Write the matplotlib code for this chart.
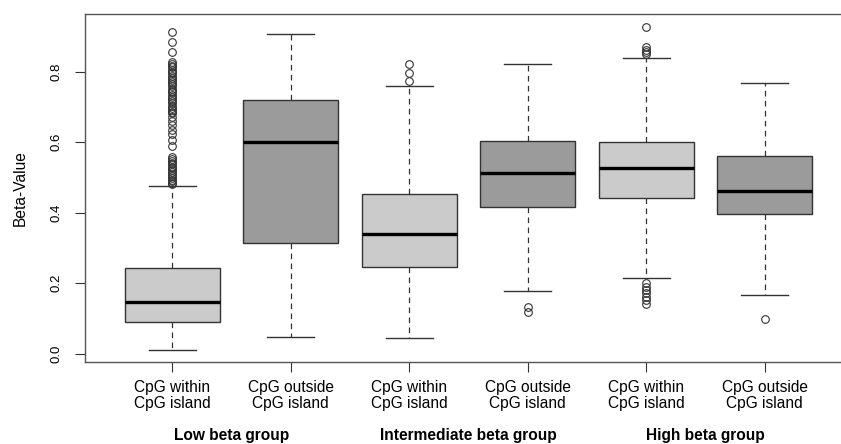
import matplotlib.pyplot as plt
from matplotlib.transforms import blended_transform_factory

plt.rcParams['font.family'] = ['Liberation Sans', 'DejaVu Sans']

# Box statistics
labels = ["CpG within\nCpG island", "CpG outside\nCpG island"] * 3
groups = ["Low beta group", "Intermediate beta group", "High beta group"]
whislo = [0.011, 0.048, 0.044, 0.178, 0.216, 0.167]
q1 = [0.089, 0.313, 0.245, 0.417, 0.443, 0.396]
med = [0.146, 0.601, 0.339, 0.513, 0.528, 0.461]
q3 = [0.244, 0.719, 0.452, 0.604, 0.601, 0.561]
whishi = [0.476, 0.906, 0.760, 0.823, 0.838, 0.769]

# Outliers
fliers_low_in = [0.912, 0.883, 0.855,
                 0.828, 0.822, 0.817, 0.812, 0.806, 0.799, 0.795, 0.788, 0.781,
                 0.776, 0.770, 0.764, 0.758, 0.751, 0.745, 0.741, 0.735, 0.728,
                 0.722, 0.716, 0.711, 0.704, 0.698, 0.692, 0.686, 0.683, 0.672,
                 0.660, 0.650, 0.635, 0.622, 0.606, 0.589,
                 0.559, 0.553, 0.548, 0.542, 0.537, 0.531, 0.526, 0.520, 0.515,
                 0.509, 0.504, 0.499, 0.494, 0.489, 0.485, 0.481]
fliers_low_out = []
fliers_mid_in = [0.774, 0.795, 0.822]
fliers_mid_out = [0.133, 0.119]
fliers_high_in = [0.928, 0.871, 0.862, 0.856, 0.850,
                  0.200, 0.190, 0.181, 0.171, 0.162, 0.152, 0.141]
fliers_high_out = [0.098]
fliers = [fliers_low_in, fliers_low_out, fliers_mid_in,
          fliers_mid_out, fliers_high_in, fliers_high_out]

fills = ['#cbcbcb', '#9b9b9b'] * 3

stats = []
for i in range(6):
    stats.append(dict(label=labels[i], whislo=whislo[i], q1=q1[i], med=med[i],
                      q3=q3[i], whishi=whishi[i], fliers=fliers[i]))

fig = plt.figure(figsize=(8.41, 4.44), dpi=100)
ax = fig.add_axes([0.1006, 0.1847, 0.9130, 0.7838])

edge = '#333333'
bp = ax.bxp(stats, positions=range(1, 7), widths=0.8, patch_artist=True,
            boxprops=dict(edgecolor=edge, linewidth=1.0),
            whiskerprops=dict(color=edge, linewidth=0.9, linestyle=(0, (4.5, 3.5))),
            capprops=dict(color=edge, linewidth=1.0),
            medianprops=dict(color='black', linewidth=2.4),
            flierprops=dict(marker='o', markersize=5.5, markerfacecolor='none',
                            markeredgecolor=edge, markeredgewidth=0.8),
            capwidths=0.4)
for patch, c in zip(bp['boxes'], fills):
    patch.set_facecolor(c)

ax.set_xlim(0.26, 6.74)
ax.set_ylim(-0.0235, 0.9637)
ax.set_yticks([0.0, 0.2, 0.4, 0.6, 0.8])
ax.set_yticklabels(['0.0', '0.2', '0.4', '0.6', '0.8'], rotation=90, va='center')
ax.tick_params(axis='y', labelsize=9.5, length=7, pad=9, color=edge)
ax.tick_params(axis='x', labelsize=11.2, length=7, pad=6, color=edge)
for lab in ax.get_xticklabels():
    lab.set_linespacing(1.1)
for s in ax.spines.values():
    s.set_color('#555555')
    s.set_linewidth(1.0)

ax.set_ylabel('Beta-Value', fontsize=11.2, labelpad=16)

trans = blended_transform_factory(ax.transData, ax.transAxes)
for g, xpos in zip(groups, [1.5, 3.5, 5.5]):
    ax.text(xpos, -0.212, g, transform=trans, ha='center', va='center',
            fontsize=11.2, fontweight='bold')

fig.savefig('out.png', dpi=100)
